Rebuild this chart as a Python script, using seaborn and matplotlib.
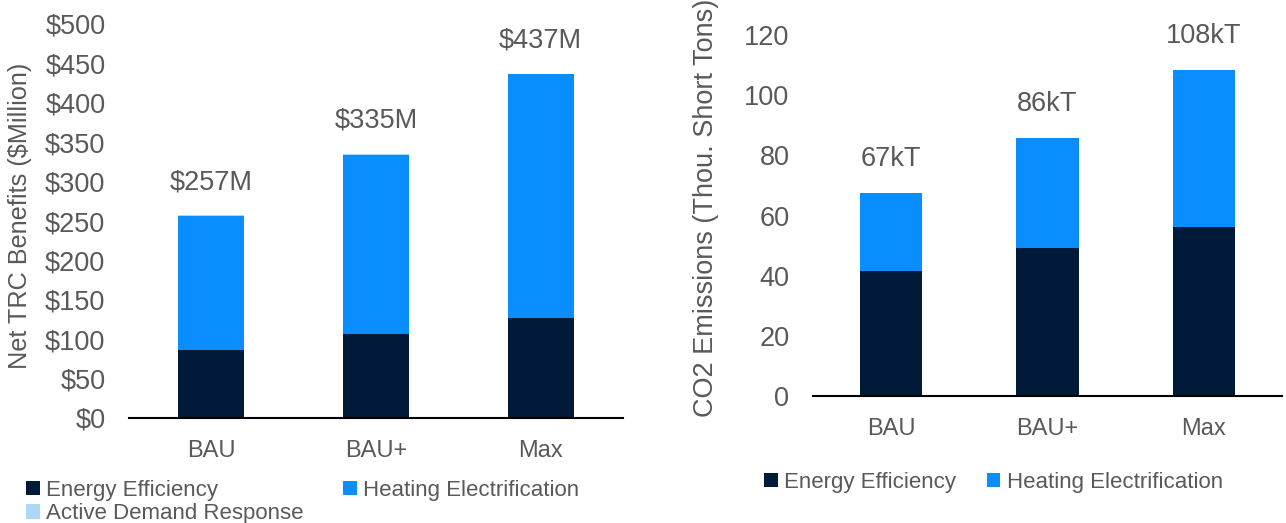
import matplotlib
matplotlib.use("Agg")
import matplotlib.pyplot as plt
import seaborn as sns
import numpy as np
import pandas as pd
from matplotlib.patches import Patch

# ---- data ----
categories = ["BAU", "BAU+", "Max"]
trc_energy_efficiency = [86, 107, 127]
trc_heating_electrification = [170, 227, 309]
trc_active_demand_response = [1, 1, 1]
trc_labels = ["$257M", "$335M", "$437M"]
trc_ticks = [0, 50, 100, 150, 200, 250, 300, 350, 400, 450, 500]

co2_energy_efficiency = [41.6, 49.2, 56.2]
co2_heating_electrification = [25.9, 36.6, 52.2]
co2_labels = ["67kT", "86kT", "108kT"]
co2_ticks = [0, 20, 40, 60, 80, 100, 120]

series_names = ["Energy Efficiency", "Heating Electrification", "Active Demand Response"]

# ---- style ----
C_EE = "#021A3A"
C_HE = "#0A8EFF"
C_ADR = "#ADD8F7"
GRAY = "#595959"

sns.set_theme(style="white")
plt.rcParams["font.family"] = ["Liberation Sans", "DejaVu Sans"]

W, H = 1286, 523
fig = plt.figure(figsize=(W / 100, H / 100), dpi=100)

def px_axes(left, right, top, bottom):
    return fig.add_axes([left / W, 1 - bottom / H, (right - left) / W, (bottom - top) / H])

ax1 = px_axes(129, 623, 24, 418)
ax2 = px_axes(813, 1282, 35, 396)

def stacked(ax, layers, colors):
    cum = np.zeros(len(categories))
    cums = []
    for layer in layers:
        cum = cum + np.array(layer, dtype=float)
        cums.append(cum.copy())
    for c, col in zip(reversed(cums), reversed(colors)):
        df = pd.DataFrame({"cat": categories, "val": c})
        sns.barplot(data=df, x="cat", y="val", color=col, saturation=1,
                    width=0.4, linewidth=0, ax=ax)
    return cums[-1]

tot1 = stacked(ax1, [trc_energy_efficiency, trc_heating_electrification, trc_active_demand_response],
               [C_EE, C_HE, C_ADR])
tot2 = stacked(ax2, [co2_energy_efficiency, co2_heating_electrification], [C_EE, C_HE])

configs = [
    (ax1, trc_ticks, "Net TRC Benefits ($Million)", tot1, trc_labels, lambda v: f"${v:g}",
     18.2, (20 - 129) / 494, 0.513, 23.8),
    (ax2, co2_ticks, "CO2 Emissions (Thou. Short Tons)", tot2, co2_labels, lambda v: f"{v:g}",
     19.5, (706 - 813) / 469, 0.522, 24.5),
]
for ax, ticks, ylab, tot, labs, fmt, ylsize, lx, ly, off in configs:
    ax.set_xlim(-0.5, 2.5)
    ax.set_ylim(ticks[0], ticks[-1])
    ax.set_yticks(ticks)
    ax.set_yticklabels([fmt(t) for t in ticks])
    ax.set_xlabel("")
    ax.set_ylabel(ylab, color=GRAY, fontsize=ylsize)
    ax.yaxis.set_label_coords(lx, ly)
    ax.yaxis.label.set_verticalalignment("center")
    for s in ["top", "right", "left"]:
        ax.spines[s].set_visible(False)
    ax.spines["bottom"].set_color("#000000")
    ax.spines["bottom"].set_linewidth(1.5)
    ax.tick_params(axis="both", length=0, colors=GRAY)
    ax.tick_params(axis="y", labelsize=19.5, pad=17)
    ax.tick_params(axis="x", pad=16, labelsize=17)
    ax.patch.set_alpha(0)
    for i, (t, lab) in enumerate(zip(tot, labs)):
        ax.annotate(lab, xy=(i, t), xytext=(0, off), textcoords="offset points",
                    ha="center", va="center", color=GRAY, fontsize=19.5)

h_ee = Patch(facecolor=C_EE, edgecolor="none", label=series_names[0])
h_he = Patch(facecolor=C_HE, edgecolor="none", label=series_names[1])
h_adr = Patch(facecolor=C_ADR, edgecolor="none", label=series_names[2])

leg_kw = dict(frameon=False, handlelength=0.62, handleheight=0.62, handletextpad=0.3,
              labelspacing=0.1, borderaxespad=0, borderpad=0,
              prop={"size": 16}, labelcolor=GRAY)
leg1 = fig.legend(handles=[h_ee, h_adr, h_he], ncol=2, loc="upper left",
                  bbox_to_anchor=(26 / W, 1 - 480 / H), columnspacing=1.75, **leg_kw)
leg2 = fig.legend(handles=[h_ee, h_he], ncol=2, loc="upper left",
                  bbox_to_anchor=(764 / W, 1 - 472 / H), columnspacing=1.36, **leg_kw)

fig.savefig("out.png", dpi=100)
